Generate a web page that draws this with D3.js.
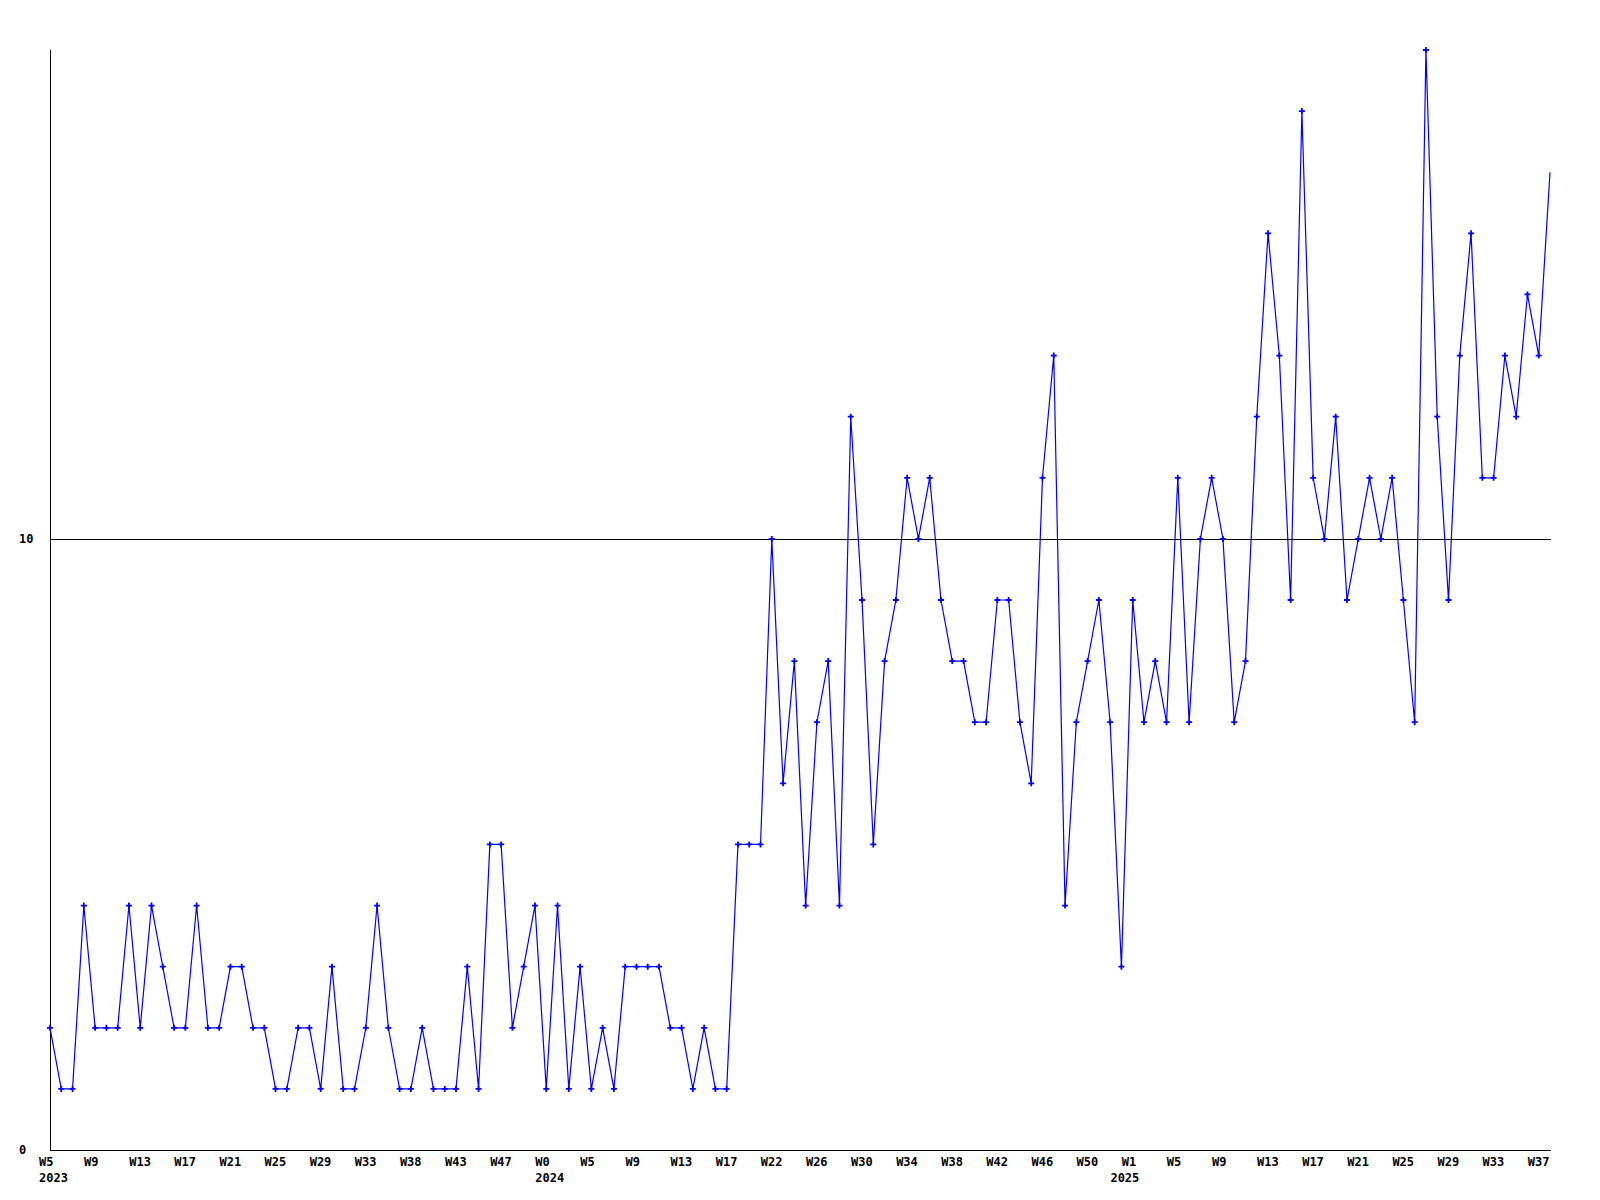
<!DOCTYPE html>
<html>
<head>
<meta charset="utf-8">
<title>weekly count</title>
<script src="https://cdn.jsdelivr.net/npm/d3@7"></script>
<style>
    body { margin: 0; background: #ffffff; }
    #svgDiv { width: 1600px; height: 1200px; }
    text { font-family: "DejaVu Sans Mono", "Liberation Mono", monospace; font-weight: bold; font-size: 12px; fill: #000; }
</style>
</head>
<body>
<div id="svgDiv"></div>
<script>
// weekly values, 2023 W5 .. 2025 W38
var values = [2,1,1,4,2,2,2,4,2,4,
    3,2,2,4,2,2,3,3,2,2,
    1,1,2,2,1,3,1,1,2,4,
    2,1,1,2,1,1,1,3,1,5,
    5,2,3,4,1,4,1,3,1,2,
    1,3,3,3,3,2,2,1,2,1,
    1,5,5,5,10,6,8,4,7,8,
    4,12,9,5,8,9,11,10,11,9,
    8,8,7,7,9,9,7,6,11,13,
    4,7,8,9,7,3,9,7,8,7,
    11,7,10,11,10,7,8,12,15,13,
    9,17,11,10,12,9,10,11,10,11,
    9,7,18,12,9,13,15,11,11,13,
    12,14,13,16];

// week labels, one every 4th point
var weekLabels = ["W5","W9","W13","W17","W21","W25","W29","W33","W38","W43","W47","W0",
    "W5","W9","W13","W17","W22","W26","W30","W34","W38","W42","W46","W50",
    "W1","W5","W9","W13","W17","W21","W25","W29","W33","W37"];
var weekStep = 4;

var yearLabels = ["2023", "2024", "2025"];
var yearIndex = [0, 44, 95];

var yTicks = [0, 10];
var yMax = 18;

var svg, xScale, yScale;

document.addEventListener('DOMContentLoaded', function(){
    svg = d3.select("#svgDiv")
        .append("svg")
        .attr("width", 1600)
        .attr("height", 1200);

    setScales();
    drawAxes();
    drawLine();
});

function setScales(){
    xScale = d3.scaleLinear()
        .domain([0, values.length - 1])
        .range([50, 1550]);

    yScale = d3.scaleLinear()
        .domain([0, yMax])
        .range([1150, 50]);
}

function drawAxes(){
    // y axis line
    svg.append("line")
        .attr("x1", 50.5).attr("x2", 50.5)
        .attr("y1", yScale(yMax)).attr("y2", yScale(0))
        .attr("stroke", "#000").attr("stroke-width", 1);

    // horizontal lines at ticks (0 is the x axis)
    svg.selectAll("line.grid")
        .data(yTicks)
        .enter().append("line")
        .attr("class", "grid")
        .attr("x1", 50).attr("x2", 1551)
        .attr("y1", d => Math.round(yScale(d)) + 0.5)
        .attr("y2", d => Math.round(yScale(d)) + 0.5)
        .attr("stroke", "#000").attr("stroke-width", 1);

    svg.selectAll("text.ylab")
        .data(yTicks)
        .enter().append("text")
        .attr("class", "ylab")
        .attr("x", 19)
        .attr("y", d => yScale(d) + 4)
        .text(d => d);

    svg.selectAll("text.wlab")
        .data(weekLabels)
        .enter().append("text")
        .attr("class", "wlab")
        .attr("x", (d, i) => xScale(i * weekStep) - 11)
        .attr("y", 1166)
        .text(d => d);

    svg.selectAll("text.yearlab")
        .data(yearLabels)
        .enter().append("text")
        .attr("class", "yearlab")
        .attr("x", (d, i) => xScale(yearIndex[i]) - 11)
        .attr("y", 1182)
        .text(d => d);
}

function drawLine(){
    var line = d3.line()
        .x((d, i) => xScale(i))
        .y(d => yScale(d));

    svg.append("path")
        .datum(values)
        .attr("d", line)
        .attr("fill", "none")
        .attr("stroke", "#0000ff")
        .attr("stroke-width", 1.2);

    // small plus markers, none on the last point
    svg.selectAll("path.mark")
        .data(values.slice(0, values.length - 1))
        .enter().append("path")
        .attr("class", "mark")
        .attr("d", (d, i) => {
            var x = xScale(i), y = yScale(d);
            return "M" + (x - 3) + "," + y + "H" + (x + 3) + "M" + x + "," + (y - 3) + "V" + (y + 3);
        })
        .attr("stroke", "#0000ff")
        .attr("stroke-width", 1.8);
}
</script>
</body>
</html>
